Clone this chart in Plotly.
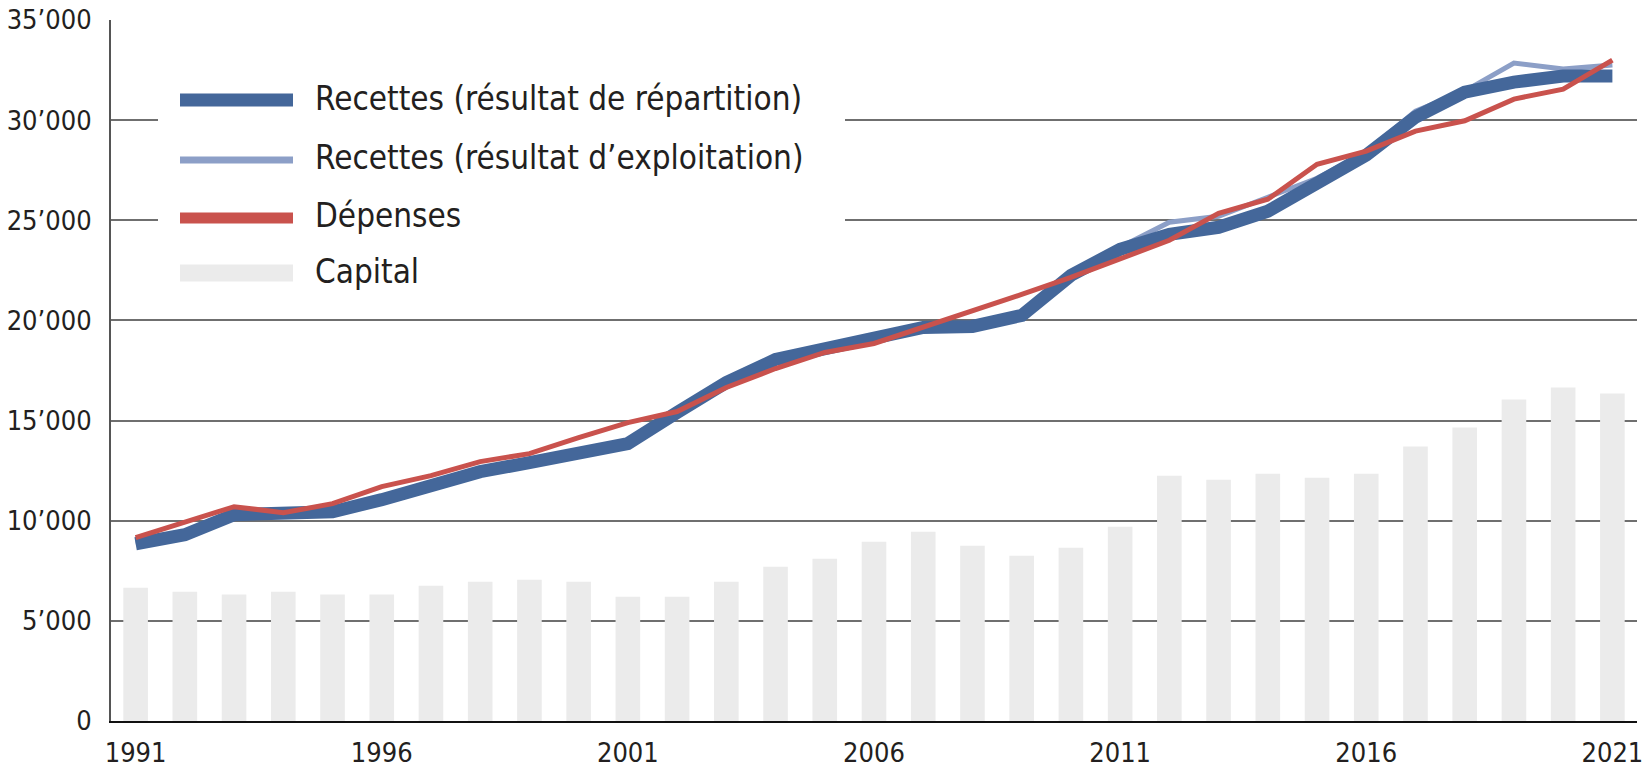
import plotly.graph_objects as go

# Values
years = list(range(1991, 2022))

capital = [6650, 6450, 6320, 6450, 6320, 6320, 6750, 6950, 7050, 6950,
           6200, 6200, 6950, 7700, 8100, 8950, 9450, 8750, 8250, 8650,
           9700, 12250, 12050, 12350, 12150, 12350, 13700, 14650, 16050, 16650,
           16350]

recettes_repartition = [8850, 9300, 10300, 10300, 10450, 11050, 11750, 12450, 12900, 13350,
                        13850, 15400, 16900, 18050, 18550, 19150, 19650, 19700, 20250, 22250,
                        23550, 24300, 24650, 25450, 26900, 28250, 30150, 31400, 31900, 32200,
                        32200]

recettes_exploitation = [8900, 9350, 10350, 10350, 10500, 11100, 11850, 12600, 13050, 13500,
                         13900, 15400, 16900, 18000, 18500, 19150, 19650, 19700, 20300, 22300,
                         23650, 24900, 25200, 26150, 27100, 28400, 30450, 31450, 32850, 32550,
                         32750]

depenses = [9150, 9950, 10700, 10400, 10850, 11700, 12250, 12950, 13350, 14150,
            14900, 15450, 16650, 17600, 18400, 18850, 19650, 20450, 21300, 22150,
            23050, 24000, 25350, 26050, 27800, 28450, 29450, 29970, 31050, 31550,
            33000]

y_ticks = [0, 5000, 10000, 15000, 20000, 25000, 30000, 35000]
y_labels = ["0", "5’000", "10’000", "15’000", "20’000", "25’000", "30’000", "35’000"]
x_ticks = [1991, 1996, 2001, 2006, 2011, 2016, 2021]

names = ["Recettes (résultat de répartition)",
         "Recettes (résultat d’exploitation)",
         "Dépenses",
         "Capital"]

BLUE = "#44679a"
LIGHT = "#8c9fc7"
RED = "#c9524d"
GREY = "#ebebeb"
TXT = "#231f20"
FONT = "Liberation Sans Narrow, DejaVu Sans Condensed, Arial Narrow, sans-serif"

fig = go.Figure()
fig.add_trace(go.Bar(x=years, y=capital, name=names[3], marker_color=GREY,
                     marker_line_width=0, width=0.5, showlegend=False))
fig.add_trace(go.Scatter(x=years, y=recettes_exploitation, name=names[1], mode="lines",
                         line=dict(color=LIGHT, width=5), showlegend=False))
fig.add_trace(go.Scatter(x=years, y=recettes_repartition, name=names[0], mode="lines",
                         line=dict(color=BLUE, width=13), showlegend=False))
fig.add_trace(go.Scatter(x=years, y=depenses, name=names[2], mode="lines",
                         line=dict(color=RED, width=5), showlegend=False))

# legend drawn by hand so the swatches are as long as in the original
L, R, T, B = 111, 1637, 20, 721
def px(v):
    return (v - L) / (R - L)
def py(v):
    return (B - v) / (B - T)

fig.add_shape(type="rect", xref="paper", yref="paper", x0=px(158), x1=px(845),
              y0=py(300), y1=py(60), fillcolor="white", line_width=0, layer="above")

swatches = [(BLUE, 13, 100), (LIGHT, 7, 160), (RED, 11, 218), (GREY, 17, 273)]
for (col, w, yy), name in zip(swatches, names):
    fig.add_shape(type="line", xref="paper", yref="paper", x0=px(180), x1=px(293),
                  y0=py(yy), y1=py(yy), line=dict(color=col, width=w), layer="above")
    fig.add_annotation(xref="paper", yref="paper", x=px(313), y=py(yy - 2), text=name,
                       showarrow=False, xanchor="left", yanchor="middle",
                       font=dict(size=33, color=TXT, family=FONT))

fig.update_xaxes(range=[1990.5, 2021.5], tickvals=x_ticks, ticks="", showgrid=False,
                 showline=True, linecolor="#111111", linewidth=2, automargin=False,
                 ticklabeloverflow="allow", ticklabelstandoff=7,
                 tickfont=dict(size=27, color=TXT, family=FONT))
fig.update_yaxes(range=[0, 35000], tickvals=y_ticks, ticktext=y_labels, ticks="",
                 showgrid=True, gridcolor="#6f6f6f", gridwidth=2, zeroline=False,
                 showline=True, linecolor="#555555", linewidth=2, ticklabelstandoff=12,
                 automargin=False,
                 tickfont=dict(size=27, color=TXT, family=FONT))

fig.update_layout(width=1645, height=775, plot_bgcolor="white", paper_bgcolor="white",
                  margin=dict(l=L, r=1645 - R, t=T, b=775 - B), bargap=0.5)

fig.write_html("out.html", config={"displayModeBar": False},
               post_script="document.body.style.margin='0px';")
